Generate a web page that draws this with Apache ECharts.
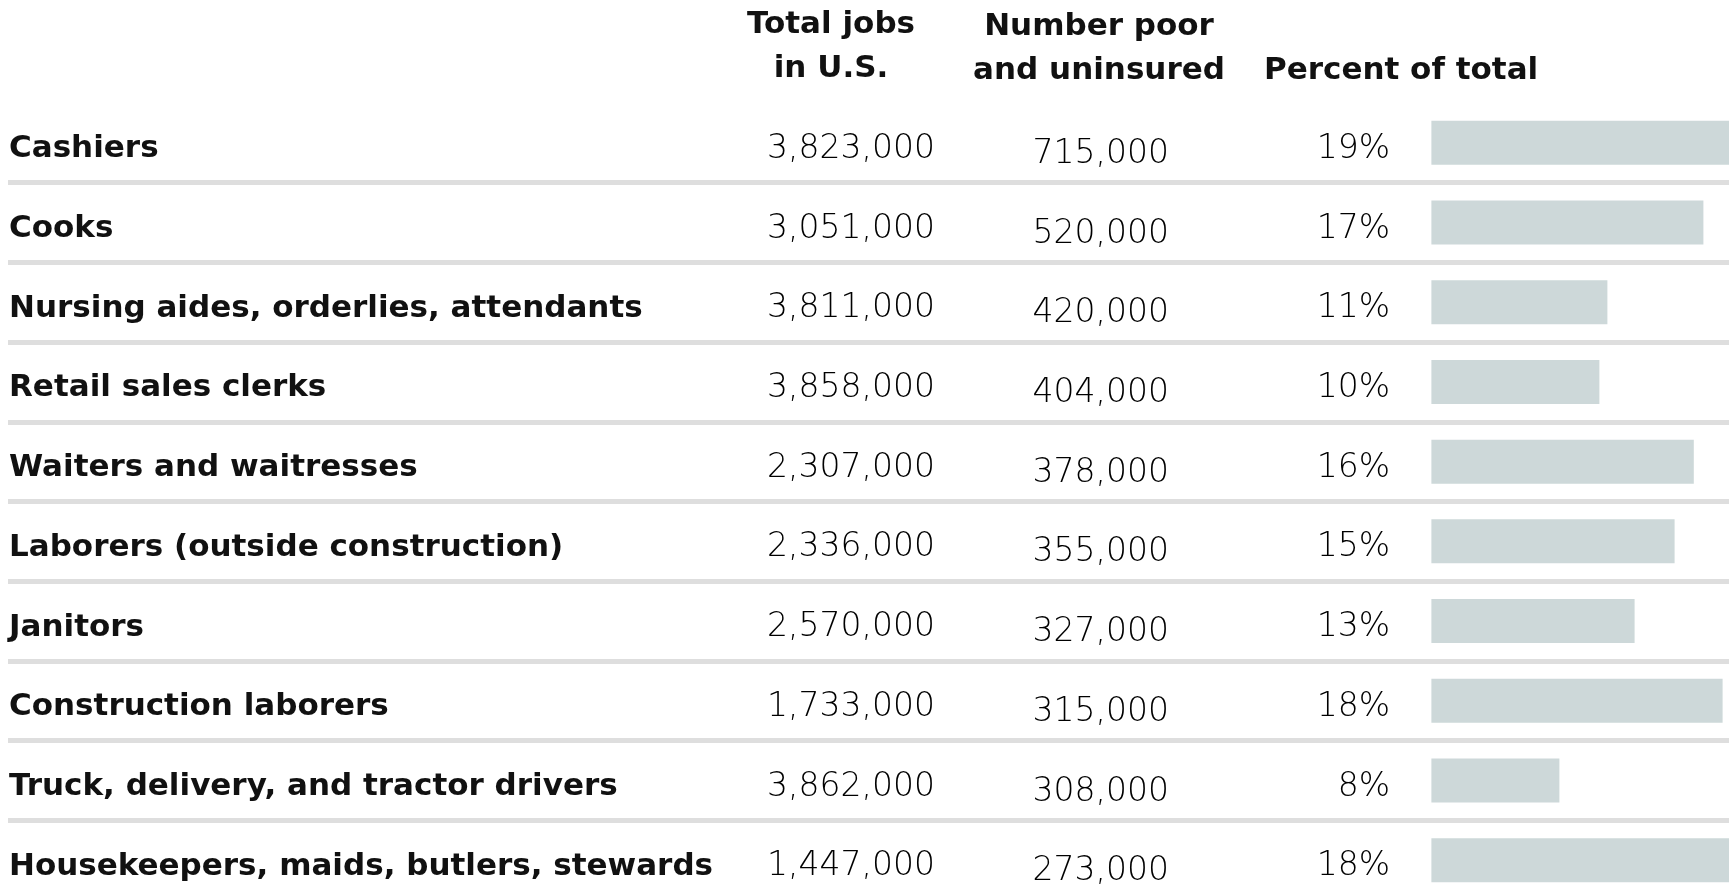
<!DOCTYPE html>
<html>
<head>
<meta charset="utf-8">
<script src="https://cdn.jsdelivr.net/npm/echarts@6/dist/echarts.min.js"></script>
<style>
  html, body { margin: 0; padding: 0; background: #fff; }
  #chart { width: 1729px; height: 886px; }
</style>
</head>
<body>
<div id="chart"></div>
<script>
// data
const occupations = [
  'Cashiers',
  'Cooks',
  'Nursing aides, orderlies, attendants',
  'Retail sales clerks',
  'Waiters and waitresses',
  'Laborers (outside construction)',
  'Janitors',
  'Construction laborers',
  'Truck, delivery, and tractor drivers',
  'Housekeepers, maids, butlers, stewards'
]
const totalJobs = [3823000, 3051000, 3811000, 3858000, 2307000, 2336000, 2570000, 1733000, 3862000, 1447000]
const poorUninsured = [715000, 520000, 420000, 404000, 378000, 355000, 327000, 315000, 308000, 273000]
// printed (rounded) percentages
const pctOfTotal = [19, 17, 11, 10, 16, 15, 13, 18, 8, 18]
// bar lengths (not rounded)
const barPct = [18.7, 17.0, 11.0, 10.5, 16.4, 15.2, 12.7, 18.2, 8.0, 18.9]

const headers = [
  { text: 'Total jobs', x: 831, y: 25, align: 'center' },
  { text: 'in U.S.', x: 831, y: 69, align: 'center' },
  { text: 'Number poor', x: 1099, y: 27, align: 'center' },
  { text: 'and uninsured', x: 1099, y: 71, align: 'center' },
  { text: 'Percent of total', x: 1264, y: 71, align: 'left' }
]

const fmt = v => v.toLocaleString('en-US')

const boldFont = 'bold 31px "DejaVu Sans"'
const ROW_H = 79.7

// 1. init
let myChart = echarts.init(document.getElementById('chart'))

// text columns: each one sits in its own grid so it can be nudged vertically
const columns = [
  { data: occupations, x: 9, align: 'left', top: 109.5, bold: true },
  { data: totalJobs.map(fmt), x: 935, align: 'right', top: 109.5 },
  { data: poorUninsured.map(fmt), x: 1169, align: 'right', top: 114.5 },
  { data: pctOfTotal.map(v => v + '%'), x: 1390, align: 'right', top: 109.5 }
]

let grids = [{ left: 8, right: 0, top: 103, height: ROW_H * 10, outerBoundsMode: 'none' }]
let xAxes = [{ type: 'value', min: -88.96, max: 18.6, show: false, gridIndex: 0 }]
let yAxes = [{
  type: 'category',
  inverse: true,
  gridIndex: 0,
  data: occupations,
  axisLine: { show: false },
  axisTick: { show: false },
  axisLabel: { show: false },
  splitLine: {
    show: true,
    showMinLine: false,
    showMaxLine: false,
    lineStyle: { color: '#dedede', width: 5 }
  }
}]

columns.forEach((c, i) => {
  grids.push({ left: c.x, width: 10, top: c.top, height: ROW_H * 10, outerBoundsMode: 'none' })
  xAxes.push({ type: 'value', show: false, gridIndex: i + 1 })
  yAxes.push({
    type: 'category',
    inverse: true,
    gridIndex: i + 1,
    data: c.data,
    axisLine: { show: false },
    axisTick: { show: false },
    splitLine: { show: false },
    axisLabel: c.bold
      ? { interval: 0, margin: 0, align: c.align, inside: true,
          fontFamily: 'DejaVu Sans', fontWeight: 'bold', fontSize: 31, color: '#111' }
      : { interval: 0, margin: 0, align: c.align,
          fontFamily: 'DejaVu Sans', fontWeight: 200, fontSize: 33, color: '#000' }
  })
})

let option = {
  animation: false,
  grid: grids,
  xAxis: xAxes,
  yAxis: yAxes,
  graphic: headers.map(h => ({
    type: 'text',
    x: h.x,
    y: h.y,
    style: {
      text: h.text,
      font: boldFont,
      fill: '#111',
      align: h.align,
      verticalAlign: 'middle'
    }
  })),
  series: [
    {
      type: 'bar',
      xAxisIndex: 0,
      yAxisIndex: 0,
      barWidth: 44,
      clip: true,
      itemStyle: { color: '#cdd8d9' },
      data: barPct
    }
  ]
}

// 2. set
myChart.setOption(option)
</script>
</body>
</html>
